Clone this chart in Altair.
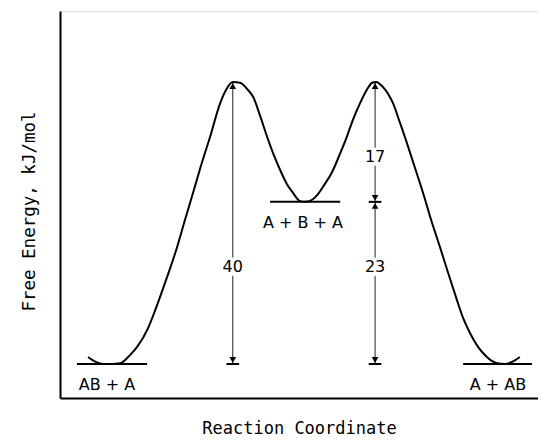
import altair as alt
import pandas as pd

# Reaction coordinate (0-100) and free energy (kJ/mol) of the profile curve
coord = [5.8, 7.4, 8.9, 10.7, 12.4, 14.5, 15.9, 18.2, 19.6, 21.7, 24.2, 25.8, 27.5,
         29.3, 31.0, 33.1, 34.5, 35.7, 37.2, 38.8, 39.9, 41.3, 42.8, 44.2, 45.5,
         46.9, 48.1, 49.6, 50.6, 52.1, 53.3, 54.3, 56.2, 57.9, 59.3, 60.5, 62.0,
         63.4, 64.5, 65.3, 66.7, 67.8, 68.8, 70.2, 71.7, 73.3, 75.0, 76.7, 78.5,
         80.2, 82.0, 83.3, 84.7, 86.4, 88.2, 89.3, 90.3, 91.9, 93.4, 95.0]
energy = [1.0, 0.3, 0.0, 0.0, 0.1, 1.3, 2.4, 5.1, 7.5, 11.5, 16.6, 20.4, 24.3,
          28.5, 32.2, 37.0, 39.1, 40.0, 39.9, 38.9, 37.9, 35.3, 32.2, 29.6, 27.5,
          25.5, 24.3, 23.1, 23.0, 23.3, 24.1, 25.1, 27.2, 29.9, 32.3, 34.6, 37.0,
          38.9, 39.9, 40.0, 39.3, 38.3, 37.0, 34.3, 31.3, 27.9, 24.3, 20.4, 16.6,
          12.9, 9.1, 6.5, 4.4, 2.4, 1.0, 0.4, 0.1, 0.0, 0.3, 1.0]

# Energy levels (species)
species = ["AB + A", "A + B + A", "A + AB"]
level_start = [3.5, 43.4, 83.3]
level_end = [18.0, 57.9, 97.5]
level_energy = [0, 23, 0]
label_coord = [9.7, 50.2, 90.5]

# Energy-difference arrows
arrow_coord = [35.7, 65.1, 65.1]
arrow_from = [0, 0, 23]
arrow_to = [40, 23, 40]
diff_text = ["40", "23", "17"]
diff_label_energy = [13.8, 13.8, 29.4]

FONT = "DejaVu Sans"
TFONT = "DejaVu Sans Mono"

xsc = alt.Scale(domain=[0, 98.76], nice=False, zero=False)
ysc = alt.Scale(domain=[-4.82, 50.07], nice=False, zero=False)

xaxis = alt.Axis(title="Reaction Coordinate", ticks=False, labels=False, grid=False,
                 domainColor="black", domainWidth=2, titleFont=TFONT, titleFontSize=17,
                 titleFontWeight="normal", titleColor="black", titleX=239, titleY=35,
                 titleBaseline="alphabetic", titleAlign="center")
yaxis = alt.Axis(title="Free Energy, kJ/mol", ticks=False, labels=False, grid=False,
                 domainColor="black", domainWidth=2, titleFont=TFONT, titleFontSize=17.5,
                 titleFontWeight="normal", titleColor="black", titleX=-31, titleY=200,
                 titleBaseline="middle", titleAlign="center", titleAngle=-90)

X = lambda f: alt.X(f, type="quantitative", scale=xsc, axis=xaxis)
Y = lambda f: alt.Y(f, type="quantitative", scale=ysc, axis=yaxis)

curve_df = pd.DataFrame({"coord": coord, "energy": energy})
level_df = pd.DataFrame({"species": species, "x1": level_start, "x2": level_end,
                         "e": level_energy, "lx": label_coord})
arrow_df = pd.DataFrame({"x": arrow_coord, "e1": arrow_from, "e2": arrow_to})
diff_df = pd.DataFrame({"x": arrow_coord, "t": diff_text, "e": diff_label_energy})

curve = alt.Chart(curve_df).mark_line(color="black", strokeWidth=2, interpolate="monotone").encode(
    x=X("coord"), y=Y("energy"))

levels = alt.Chart(level_df).mark_rule(color="black", strokeWidth=2).encode(
    x=X("x1"), x2="x2", y=Y("e"))

level_labels = alt.Chart(level_df).mark_text(font=FONT, fontSize=16, color="black", dy=21,
                                              baseline="middle").encode(
    x=X("lx"), y=Y("e"), text="species")

arrows = alt.Chart(arrow_df).mark_rule(color="#222", strokeWidth=1).encode(
    x=X("x"), y=Y("e1"), y2="e2")

heads_down = alt.Chart(arrow_df).mark_point(shape="triangle-down", filled=True, color="black",
                                            size=45, opacity=1, yOffset=-4).encode(
    x=X("x"), y=Y("e1"))
heads_up = alt.Chart(arrow_df).mark_point(shape="triangle-up", filled=True, color="black",
                                          size=45, opacity=1, yOffset=4).encode(
    x=X("x"), y=Y("e2"))
bars = alt.Chart(arrow_df).mark_point(shape="stroke", color="black", strokeWidth=2,
                                      size=160, opacity=1).encode(
    x=X("x"), y=Y("e1"))

diff_bg = alt.Chart(diff_df).mark_point(shape="square", filled=True, color="white",
                                        size=330, opacity=1).encode(
    x=X("x"), y=Y("e"))
diff_labels = alt.Chart(diff_df).mark_text(font=FONT, fontSize=16, color="black",
                                           baseline="middle").encode(
    x=X("x"), y=Y("e"), text="t")

chart = alt.layer(arrows, diff_bg, diff_labels, heads_down, heads_up, bars,
                  levels, curve, level_labels).properties(
    width=478, height=387,
    autosize=alt.AutoSizeParams(type="none"),
    padding={"left": 52, "top": 3, "right": 0, "bottom": 40},
).configure_view(stroke=None).configure(background="white")

chart.save("out.html", embed_options={"renderer": "svg", "actions": False})
